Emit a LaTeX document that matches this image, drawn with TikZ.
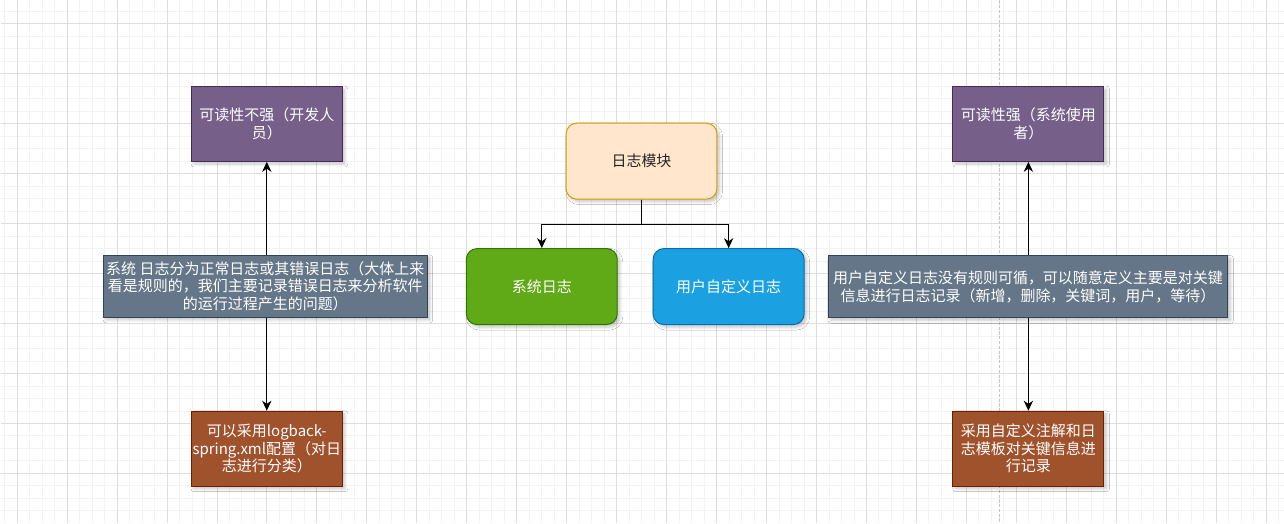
\documentclass[tikz,border=0pt]{standalone}
\usepackage{fontspec}
\setmainfont{Noto Sans CJK SC}
\usetikzlibrary{arrows.meta,shadows.blur}
\definecolor{gridminor}{RGB}{243,243,243}
\definecolor{gridmajor}{RGB}{222,222,222}
\definecolor{purplefill}{RGB}{118,96,138}
\definecolor{purpleline}{RGB}{67,45,87}
\definecolor{slatefill}{RGB}{100,118,135}
\definecolor{slateline}{RGB}{49,67,84}
\definecolor{brownfill}{RGB}{160,82,45}
\definecolor{brownline}{RGB}{109,31,0}
\definecolor{orangefill}{RGB}{255,230,204}
\definecolor{orangeline}{RGB}{215,155,0}
\definecolor{greenfill}{RGB}{96,169,23}
\definecolor{greenline}{RGB}{45,118,0}
\definecolor{bluefill}{RGB}{27,161,226}
\definecolor{blueline}{RGB}{0,110,175}

\begin{document}
\begin{tikzpicture}[x=0.75pt,y=-0.75pt,
  box/.style={
    rectangle,
    line width=0.75pt,
    inner sep=0pt,
    align=center,
    text=white,
    font=\fontsize{11.25}{13.2}\selectfont,
    blur shadow={shadow xshift=2pt,shadow yshift=-2pt,shadow blur steps=6,shadow opacity=22}
  },
  notebox/.style={box,minimum width=113.25pt,minimum height=56.25pt},
  readbox/.style={notebox,draw=purpleline,fill=purplefill},
  actbox/.style={notebox,draw=brownline,fill=brownfill},
  descbox/.style={box,draw=slateline,fill=slatefill,minimum height=46.5pt},
  leafbox/.style={box,rounded corners=8pt,minimum width=113.25pt,minimum height=57pt},
  link/.style={
    -{Stealth[length=7.5pt,width=7pt,inset=2.4pt]},
    line width=0.75pt,
    draw=black
  }
  ]
  % background grid
  \fill[white] (0,0) rectangle (1284,523);
  \foreach \i in {0,...,102}
    \draw[gridminor,line width=0.75pt] ({4.17+12.5*\i},0) -- ++(0,523);
  \foreach \j in {0,...,40}
    \draw[gridminor,line width=0.75pt] (0,{10.83+12.5*\j}) -- ++(1284,0);
  \foreach \i in {0,...,25}
    \draw[gridmajor,line width=0.75pt] ({16.67+50*\i},0) -- ++(0,523);
  \foreach \j in {0,...,9}
    \draw[gridmajor,line width=0.75pt] (0,{23.33+50*\j}) -- ++(1284,0);
  \draw[gray!45,line width=0.75pt,dash pattern=on 2.4pt off 1.2pt] (1000,0) -- (1000,523);
  \useasboundingbox (0,0) rectangle (1284,523);

  % left column
  \node[readbox] (readlow) at (266.5,123.5) {可读性不强（开发人\\员）};
  \node[descbox,minimum width=243pt] (sysdesc) at (265,286) {系统 日志分为正常日志或其错误日志（大体上来\\看是规则的，我们主要记录错误日志来分析软件\\的运行过程产生的问题）};
  \node[actbox] (logback) at (266.5,448.5) {可以采用logback-\\spring.xml配置（对日\\志进行分类）};

  % center
  \node[leafbox,draw=orangeline,fill=orangefill,text=black!85] (module) at (641.5,160.8) {日志模块};
  \node[leafbox,draw=greenline,fill=greenfill] (syslog) at (541.7,286.3) {系统日志};
  \node[leafbox,draw=blueline,fill=bluefill] (userlog) at (728.7,286.3) {用户自定义日志};

  % right column
  \node[readbox] (readhigh) at (1028.7,123.5) {可读性强（系统使用\\者）};
  \node[descbox,minimum width=300pt] (userdesc) at (1028.3,286.5) {用户自定义日志没有规则可循，可以随意定义主要是对关键\\信息进行日志记录（新增，删除，关键词，用户，等待）};
  \node[actbox] (annot) at (1028.7,448.5) {采用自定义注解和日\\志模板对关键信息进\\行记录};

  \draw[link] (sysdesc.north -| readlow.south) -- (readlow.south);
  \draw[link] (sysdesc.south -| logback.north) -- (logback.north);
  \draw[link] (module.south) -- ++(0,25) -| (syslog.north);
  \draw[link] (module.south) -- ++(0,25) -| (userlog.north);
  \draw[link] (userdesc.north -| readhigh.south) -- (readhigh.south);
  \draw[link] (userdesc.south -| annot.north) -- (annot.north);
\end{tikzpicture}
\end{document}
